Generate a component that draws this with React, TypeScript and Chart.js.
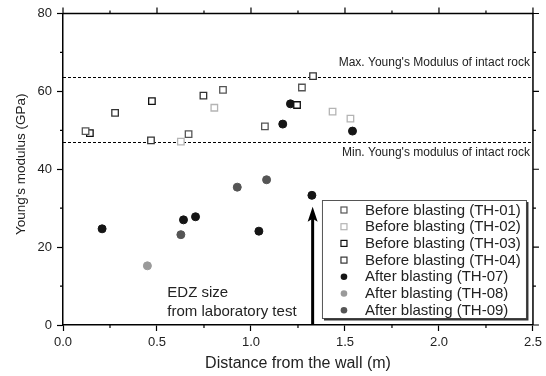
import React, { useEffect, useRef } from 'react';
import { Chart, registerables } from 'chart.js';
Chart.register(...registerables);

// ---- data (distance m, Young's modulus GPa) ----
const th01X = [0.12, 0.668, 0.851, 1.074, 1.271];
const th01Y = [49.8, 49.0, 60.4, 51.0, 61.0];
const th02X = [0.627, 0.805, 1.434, 1.529];
const th02Y = [47.1, 55.8, 54.8, 53.0];
const th03X = [0.143, 0.473, 1.245];
const th03Y = [49.3, 57.5, 56.5];
const th04X = [0.277, 0.468, 0.747, 1.33];
const th04Y = [54.5, 47.4, 58.9, 63.9];
const th07X = [0.208, 0.641, 0.705, 1.042, 1.169, 1.21, 1.324, 1.54];
const th07Y = [24.7, 27.0, 27.8, 24.1, 51.6, 56.8, 33.3, 49.8];
const th08X = [0.449];
const th08Y = [15.2];
const th09X = [0.627, 0.927, 1.083];
const th09Y = [23.2, 35.4, 37.3];

const seriesLabels = [
  'Before blasting (TH-01)',
  'Before blasting (TH-02)',
  'Before blasting (TH-03)',
  'Before blasting (TH-04)',
  'After blasting (TH-07)',
  'After blasting (TH-08)',
  'After blasting (TH-09)',
];
const seriesColors = ['#555555', '#b4b4b4', '#111111', '#333333', '#151515', '#9a9a9a', '#555555'];

const maxModulus = 63.7;
const minModulus = 47.0;
const maxLabel = "Max. Young's Modulus of intact rock";
const minLabel = "Min. Young's modulus of intact rock";
const edzSize = 1.328;
const edzArrowTop = 30.4;
const edzText = ['EDZ size', 'from laboratory test'];

const xTicks = [0, 0.5, 1.0, 1.5, 2.0, 2.5];
const xMinorTicks = [0.25, 0.75, 1.25, 1.75, 2.25];
const yTicks = [0, 20, 40, 60, 80];
const yMinorTicks = [10, 30, 50, 70];
const xTitle = 'Distance from the wall (m)';
const yTitle = "Young's modulus (GPa)";

const FONT = '"Liberation Sans", Arial, sans-serif';
const TEXT = '#222222';

function pts(xs: number[], ys: number[]) {
  return xs.map((x, i) => ({ x, y: ys[i] }));
}

const allSeries = [
  [th01X, th01Y], [th02X, th02Y], [th03X, th03Y], [th04X, th04Y],
  [th07X, th07Y], [th08X, th08Y], [th09X, th09Y],
];

const overlayPlugin = {
  id: 'overlay',
  beforeDatasetsDraw(chart: any) {
    const { ctx, chartArea: a, scales } = chart;
    const y = scales.y;
    ctx.save();
    ctx.strokeStyle = '#000';
    ctx.lineWidth = 1;
    ctx.setLineDash([3, 2]);
    [maxModulus, minModulus].forEach((v) => {
      const py = Math.round(y.getPixelForValue(v)) + 0.5;
      ctx.beginPath();
      ctx.moveTo(a.left, py);
      ctx.lineTo(a.right, py);
      ctx.stroke();
    });
    ctx.setLineDash([]);
    ctx.fillStyle = TEXT;
    ctx.font = `12px ${FONT}`;
    ctx.textAlign = 'right';
    ctx.textBaseline = 'middle';
    ctx.fillText(maxLabel, a.right - 3, y.getPixelForValue(maxModulus) - 14);
    ctx.fillText(minLabel, a.right - 3, y.getPixelForValue(minModulus) + 11);
    ctx.restore();
  },
  afterDatasetsDraw(chart: any) {
    const { ctx, chartArea: a, scales } = chart;
    const x = scales.x;
    const y = scales.y;
    ctx.save();
    // frame top/right
    ctx.strokeStyle = '#000';
    ctx.lineWidth = 1.5;
    ctx.beginPath();
    ctx.moveTo(a.left, a.top);
    ctx.lineTo(a.right, a.top);
    ctx.lineTo(a.right, a.bottom);
    ctx.stroke();
    // ticks
    ctx.lineWidth = 1.2;
    ctx.beginPath();
    xTicks.forEach((v) => {
      const px = x.getPixelForValue(v);
      ctx.moveTo(px, a.top); ctx.lineTo(px, a.top - 6);
    });
    xMinorTicks.forEach((v) => {
      const px = x.getPixelForValue(v);
      ctx.moveTo(px, a.bottom); ctx.lineTo(px, a.bottom + 3);
      ctx.moveTo(px, a.top); ctx.lineTo(px, a.top - 3);
    });
    yTicks.forEach((v) => {
      const py = y.getPixelForValue(v);
      ctx.moveTo(a.right, py); ctx.lineTo(a.right + 6, py);
    });
    yMinorTicks.forEach((v) => {
      const py = y.getPixelForValue(v);
      ctx.moveTo(a.left, py); ctx.lineTo(a.left - 3, py);
      ctx.moveTo(a.right, py); ctx.lineTo(a.right + 3, py);
    });
    ctx.stroke();

    // EDZ arrow
    const ax = x.getPixelForValue(edzSize);
    const y0 = y.getPixelForValue(0);
    const yt = y.getPixelForValue(edzArrowTop);
    ctx.lineWidth = 3;
    ctx.beginPath();
    ctx.moveTo(ax, y0);
    ctx.lineTo(ax, yt + 10);
    ctx.stroke();
    ctx.fillStyle = '#000';
    ctx.beginPath();
    ctx.moveTo(ax, yt);
    ctx.lineTo(ax - 5, yt + 15);
    ctx.lineTo(ax, yt + 12);
    ctx.lineTo(ax + 5, yt + 15);
    ctx.closePath();
    ctx.fill();

    // EDZ text
    ctx.fillStyle = TEXT;
    ctx.font = `15px ${FONT}`;
    ctx.textAlign = 'left';
    ctx.textBaseline = 'middle';
    const tx = x.getPixelForValue(0.555);
    ctx.fillText(edzText[0], tx, a.bottom - 32);
    ctx.fillText(edzText[1], tx, a.bottom - 13.5);

    // Legend
    const lx0 = a.right - 211;
    const ly0 = a.bottom - 125;
    const lw = 204;
    const lh = 118;
    ctx.fillStyle = '#fff';
    ctx.fillRect(lx0, ly0, lw, lh);
    ctx.strokeStyle = '#555';
    ctx.lineWidth = 1;
    ctx.strokeRect(lx0 + 0.5, ly0 + 0.5, lw, lh);
    ctx.strokeStyle = '#333';
    ctx.lineWidth = 2;
    ctx.beginPath();
    ctx.moveTo(lx0 + lw + 1.5, ly0 + 2);
    ctx.lineTo(lx0 + lw + 1.5, ly0 + lh + 1.5);
    ctx.lineTo(lx0 + 2, ly0 + lh + 1.5);
    ctx.stroke();
    ctx.font = `15px ${FONT}`;
    seriesLabels.forEach((lab, i) => {
      const cy = ly0 + 10 + i * 16.7;
      const cx = lx0 + 22;
      const col = seriesColors[i];
      if (i < 4) {
        ctx.fillStyle = '#fff';
        ctx.strokeStyle = col;
        ctx.lineWidth = 1.2;
        ctx.fillRect(cx - 3, cy - 3, 6, 6);
        ctx.strokeRect(cx - 3, cy - 3, 6, 6);
      } else {
        ctx.fillStyle = col;
        ctx.beginPath();
        ctx.arc(cx, cy, 3.3, 0, Math.PI * 2);
        ctx.fill();
      }
      ctx.fillStyle = TEXT;
      ctx.textAlign = 'left';
      ctx.textBaseline = 'middle';
      ctx.fillText(lab, lx0 + 43, cy + 0.5);
    });

    // axis titles
    ctx.fillStyle = TEXT;
    ctx.font = `16px ${FONT}`;
    ctx.textAlign = 'center';
    ctx.textBaseline = 'middle';
    ctx.fillText(xTitle, (a.left + a.right) / 2, a.bottom + 39);
    ctx.save();
    ctx.translate(21, (a.top + a.bottom) / 2 - 5);
    ctx.rotate(-Math.PI / 2);
    ctx.font = `13.5px ${FONT}`;
    ctx.fillText(yTitle, 0, 0);
    ctx.restore();
    ctx.restore();
  },
};

export default function App() {
  const ref = useRef<HTMLCanvasElement>(null);
  useEffect(() => {
    if (!ref.current) return;
    const datasets = allSeries.map(([xs, ys], i) => {
      const isSq = i < 4;
      return {
        label: seriesLabels[i],
        data: pts(xs as number[], ys as number[]),
        pointStyle: isSq ? 'rect' : 'circle',
        pointRadius: isSq ? 4.6 : 4,
        pointBorderWidth: isSq ? 1.3 : 1,
        borderColor: seriesColors[i],
        backgroundColor: isSq ? '#ffffff' : seriesColors[i],
        showLine: false,
      };
    });
    const chart = new Chart(ref.current, {
      type: 'scatter',
      data: { datasets },
      options: {
        animation: false,
        responsive: false,
        devicePixelRatio: 1,
        layout: { padding: { top: 13.5, right: 11, left: 0, bottom: 0 } },
        plugins: { legend: { display: false }, tooltip: { enabled: false } },
        scales: {
          x: {
            type: 'linear',
            min: 0,
            max: 2.5,
            afterFit: (s: any) => { s.height = 51; },
            afterBuildTicks: (s: any) => { s.ticks = xTicks.map((v) => ({ value: v })); },
            ticks: {
              callback: (v: any) => Number(v).toFixed(1),
              font: { family: FONT, size: 13 },
              color: TEXT,
              padding: 4,
              maxRotation: 0,
            },
            grid: { display: true, drawOnChartArea: false, drawTicks: true, tickLength: 6, color: '#000', tickWidth: 1.2 },
            border: { display: true, color: '#000', width: 1.5 },
          },
          y: {
            type: 'linear',
            min: 0,
            max: 80,
            afterFit: (s: any) => { s.width = 63; },
            afterBuildTicks: (s: any) => { s.ticks = yTicks.map((v) => ({ value: v })); },
            ticks: {
              font: { family: FONT, size: 13 },
              color: TEXT,
              padding: 5,
            },
            grid: { display: true, drawOnChartArea: false, drawTicks: true, tickLength: 6, color: '#000', tickWidth: 1.2 },
            border: { display: true, color: '#000', width: 1.5 },
          },
        },
      },
      plugins: [overlayPlugin],
    } as any);
    return () => chart.destroy();
  }, []);
  return (
    <div style={{ position: 'absolute', left: 0, top: 0, width: 546, height: 376, background: '#fff' }}>
      <canvas ref={ref} width={546} height={376} />
    </div>
  );
}
